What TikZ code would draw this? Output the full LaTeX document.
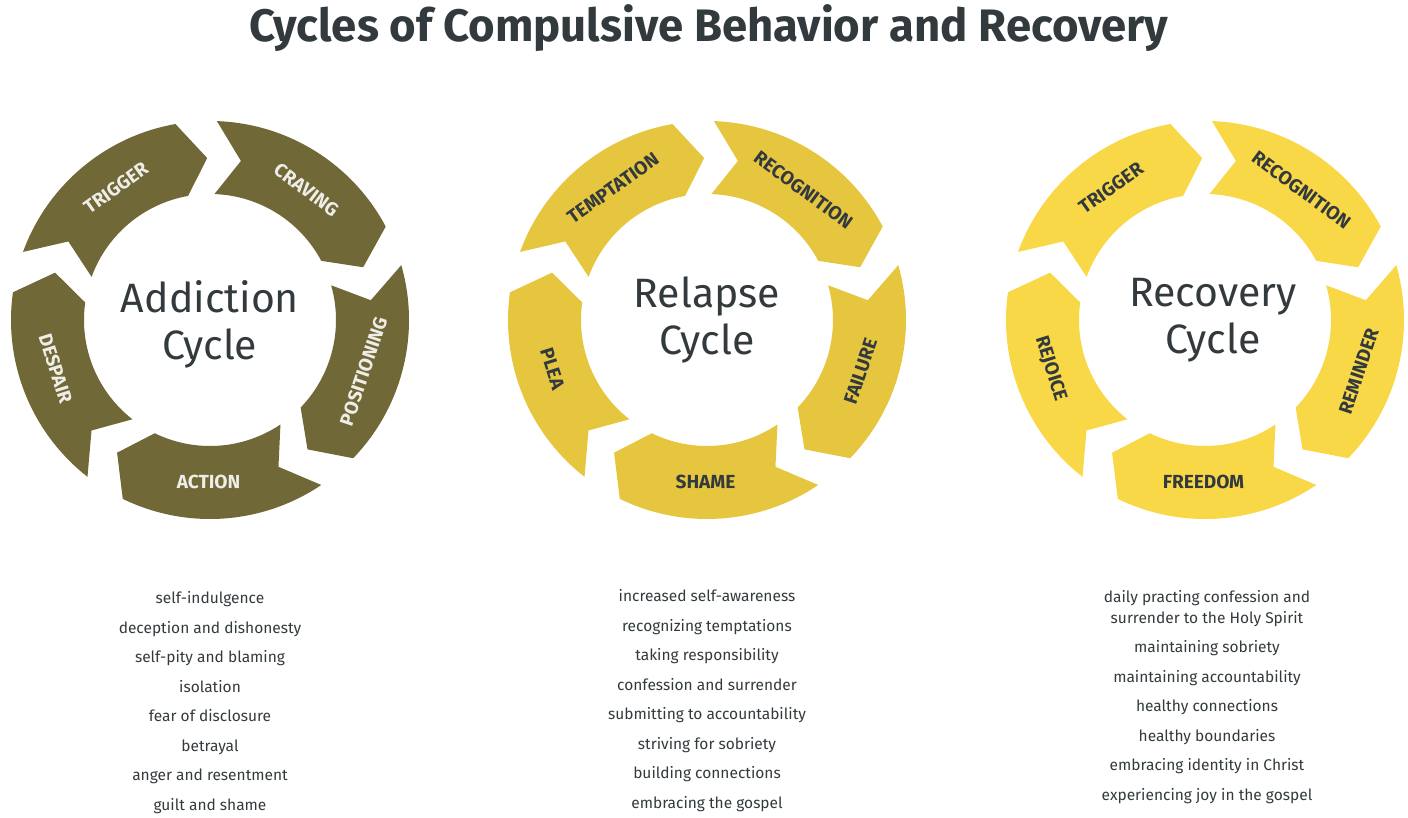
\documentclass[tikz,border=0pt]{standalone}
\usepackage{fontspec}
\setmainfont{Fira Sans}
\begin{document}
\begin{tikzpicture}[x=1pt,y=1pt,
  seglab/.style={font=\bfseries\fontsize{19}{19}\selectfont},
  center/.style={font=\fontsize{41}{47}\selectfont,text=txt,align=center},
  list/.style={font=\fontsize{15.5}{29.5}\selectfont,text=txt,align=center,anchor=north},
  title/.style={font=\bfseries\fontsize{45.5}{45.5}\selectfont,text=txt}]
\definecolor{txt}{HTML}{333A3D}
\definecolor{olive}{HTML}{716838}
\definecolor{gold}{HTML}{E6C63E}
\definecolor{sun}{HTML}{F8D847}
\useasboundingbox (0,0) rectangle (1408,817);
\def\Ro{199}\def\Ri{126}\def\Rm{162}\def\gp{3}\def\dd{9}
\newcommand\cyc[5]{% cx, cy, fill, text color, labels
 \begin{scope}[shift={(#1,#2)}]
 \foreach \s/\lab [count=\k] in {#5}{
   \pgfmathsetmacro\e{\s-72+\gp}
   \pgfmathsetmacro\eh{\e+\dd}
   \pgfmathsetmacro\sn{\s-\dd}
   \pgfmathsetmacro\m{\s-36+\gp/2}
   \pgfmathsetmacro\rot{sin(\m)>0 ? \m-90 : \m+90}
   \fill[#3] (\s:\Ro) arc[start angle=\s, end angle=\eh, radius=\Ro] -- (\e:\Rm+0) -- (\eh:\Ri)
      arc[start angle=\eh, end angle=\s, radius=\Ri] -- (\sn:\Rm+0) -- cycle;
   \node[seglab,text=#4,rotate=\rot,inner sep=0pt] (l#1\k) at (\m:\Rm) {\lab};
 }
 \end{scope}}
\cyc{210}{497}{olive}{white!88!olive}{160/TRIGGER,88/CRAVING,16/POSITIONING,-56/ACTION,-128/DESPAIR}
\cyc{707}{497}{gold}{txt}{160/TEMPTATION,88/RECOGNITION,16/FAILURE,-56/SHAME,-128/PLEA}
\cyc{1205}{497}{sun}{txt}{160/TRIGGER,88/RECOGNITION,16/REMINDER,-56/FREEDOM,-128/REJOICE}
\node[title] (title) at (709,789) {Cycles of Compulsive Behavior and Recovery};
\node[center] (c1) at (210,493) {Addiction\\Cycle};
\node[center] (c2) at (707,497) {Relapse\\Cycle};
\node[center] (c3) at (1213,497) {Recovery\\Cycle};
\node[list] (t1) at (210,229) {self-indulgence\\deception and dishonesty\\self-pity and blaming\\isolation\\fear of disclosure\\betrayal\\anger and resentment\\guilt and shame};
\node[list] (t2) at (707,231) {increased self-awareness\\recognizing temptations\\taking responsibility\\confession and surrender\\submitting to accountability\\striving for sobriety\\building connections\\embracing the gospel};
\node[list,font=\fontsize{15.5}{21}\selectfont] (t3a) at (1207,230) {daily practing confession and\\surrender to the Holy Spirit};
\node[list] (t3) at (1207,180) {maintaining sobriety\\maintaining accountability\\healthy connections\\healthy boundaries\\embracing identity in Christ\\experiencing joy in the gospel};
\end{tikzpicture}
\end{document}
